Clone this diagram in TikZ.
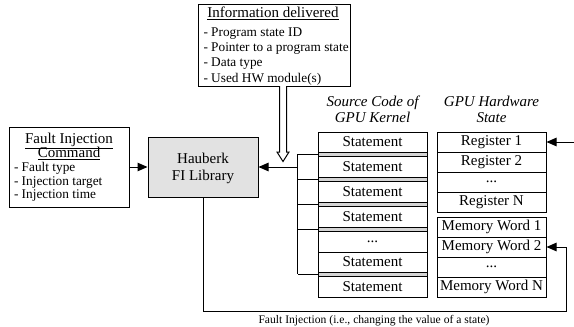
\documentclass[tikz,border=0pt]{standalone}
\usepackage{fontspec}
\setmainfont{Liberation Serif}
\usetikzlibrary{arrows.meta,calc}
\definecolor{libgray}{RGB}{226,226,226}
\definecolor{bargray}{RGB}{212,212,212}
\newcommand{\fsmain}{\fontsize{15}{17}\selectfont}
\newcommand{\fslist}{\fontsize{13.3}{14}\selectfont}
\newcommand{\fsnote}{\fontsize{11.6}{13}\selectfont}

\begin{document}
\begin{tikzpicture}[x=1pt,y=-1pt,line width=1pt,
  box/.style={draw,rectangle,inner sep=0pt},
  cell/.style={draw,rectangle,inner sep=0pt,minimum width=109pt,minimum height=20pt,font=\fsmain},
  bar/.style={draw,rectangle,inner sep=0pt,minimum width=109pt,minimum height=4.5pt,fill=bargray},
  txt/.style={inner sep=0pt},
  arr/.style={-{Triangle[length=10pt,width=8.5pt]}},
]
\useasboundingbox (0,0) rectangle (574,327);

% ---------------- information box ----------------
\node[box,minimum width=152pt,minimum height=82pt] (info) at (274,45) {};
\node[txt,anchor=base,font=\fsmain] (infot) at (273,17.5) {\underline{Information delivered}};
\node[txt,anchor=base west,font=\fslist] (i1) at (203,36.5) {- Program state ID};
\node[txt,anchor=base west,font=\fslist] (i2) at (203,51.5) {- Pointer to a program state};
\node[txt,anchor=base west,font=\fslist] (i3) at (203,66.8) {- Data type};
\node[txt,anchor=base west,font=\fslist] (i4) at (203,82) {- Used HW module(s)};

% hollow arrow from the information box
\coordinate (hs) at (283,86);
\draw[fill=white] ($(hs)+(-3.5,0)$) -- ($(hs)+(-3.5,66)$) -- ($(hs)+(-6,66)$)
  -- ($(hs)+(0,75.5)$) -- ($(hs)+(6,66)$) -- ($(hs)+(3.5,66)$) -- ($(hs)+(3.5,0)$);

% ---------------- fault injection command ----------------
\node[box,minimum width=120pt,minimum height=80pt] (cmd) at (69,167) {};
\node[txt,anchor=base,font=\fsmain] (c1) at (69,143.5) {\underline{Fault Injection}};
\node[txt,anchor=base,font=\fsmain] (c2) at (69,157.5) {\underline{Command}};
\node[txt,anchor=base west,font=\fslist] (c3) at (13.5,171.5) {- Fault type};
\node[txt,anchor=base west,font=\fslist] (c4) at (13.5,185) {- Injection target};
\node[txt,anchor=base west,font=\fslist] (c5) at (13.5,198) {- Injection time};

% ---------------- library ----------------
\node[box,fill=libgray,minimum width=110pt,minimum height=60pt] (hb) at (203,167) {};
\node[txt,anchor=base,font=\fsmain] (hb1) at (203,163.3) {Hauberk};
\node[txt,anchor=base,font=\fsmain] (hb2) at (203,180) {FI Library};

% ---------------- source code column ----------------
\node[txt,anchor=base,font=\fsmain\itshape] (sh1) at (372.5,106.5) {Source Code of};
\node[txt,anchor=base,font=\fsmain\itshape] (sh2) at (372.5,122.5) {GPU Kernel};

\node[cell] (s1) at (372.5,142) {Statement};
\node[bar]  (b1) at (372.5,154.25) {};
\node[cell,minimum height=20.5pt] (s2) at (372.5,166.75) {Statement};
\node[bar]  (b2) at (372.5,179.25) {};
\node[cell,minimum height=20.5pt] (s3) at (372.5,191.75) {Statement};
\node[bar]  (b3) at (372.5,204.25) {};
\node[cell,minimum height=20.5pt] (s4) at (372.5,216.75) {Statement};
\node[bar]  (b4) at (372.5,229.25) {};
\node[cell,minimum height=20.5pt] (sd) at (372.5,241.75) {...};
\node[cell] (s5) at (372.5,262) {Statement};
\node[bar]  (b5) at (372.5,274.25) {};
\node[cell,minimum height=20.5pt] (s6) at (372.5,286.75) {Statement};

% bracket joining the statement boundaries
\foreach \b in {b1,b2,b3,b4,b5} \draw (\b.west) -- ++(-20,0);
\draw ($(b1.west)+(-20,0)$) -- ($(b5.west)+(-20,0)$);
\coordinate (jn) at (298,167);
\draw[arr] (jn) -- (hb.east);

% ---------------- hardware state column ----------------
\node[txt,anchor=base,font=\fsmain\itshape] (gh1) at (491.5,106.5) {GPU Hardware};
\node[txt,anchor=base,font=\fsmain\itshape] (gh2) at (491.5,122.5) {State};

\node[cell] (r1) at (491.5,142) {Register 1};
\node[cell] (r2) at (491.5,162) {Register 2};
\node[cell] (rd) at (491.5,182) {...};
\node[cell] (rn) at (491.5,202) {Register N};

\node[cell] (m1) at (491.5,227) {Memory Word 1};
\node[cell] (m2) at (491.5,247) {Memory Word 2};
\node[cell] (md) at (491.5,267) {...};
\node[cell] (mn) at (491.5,287) {Memory Word N};

% ---------------- connectors ----------------
\draw[arr] (cmd.east) -- (hb.west);
\coordinate (rin) at (574,142);
\draw[arr] (rin) -- (r1.east);
\coordinate (fc) at (566,311);
\draw[arr] (hb.south) |- (fc) |- (m2.east);
\node[txt,anchor=base,font=\fsnote] (fil) at (374,323) {Fault Injection (i.e., changing the value of a state)};
\end{tikzpicture}
\end{document}
